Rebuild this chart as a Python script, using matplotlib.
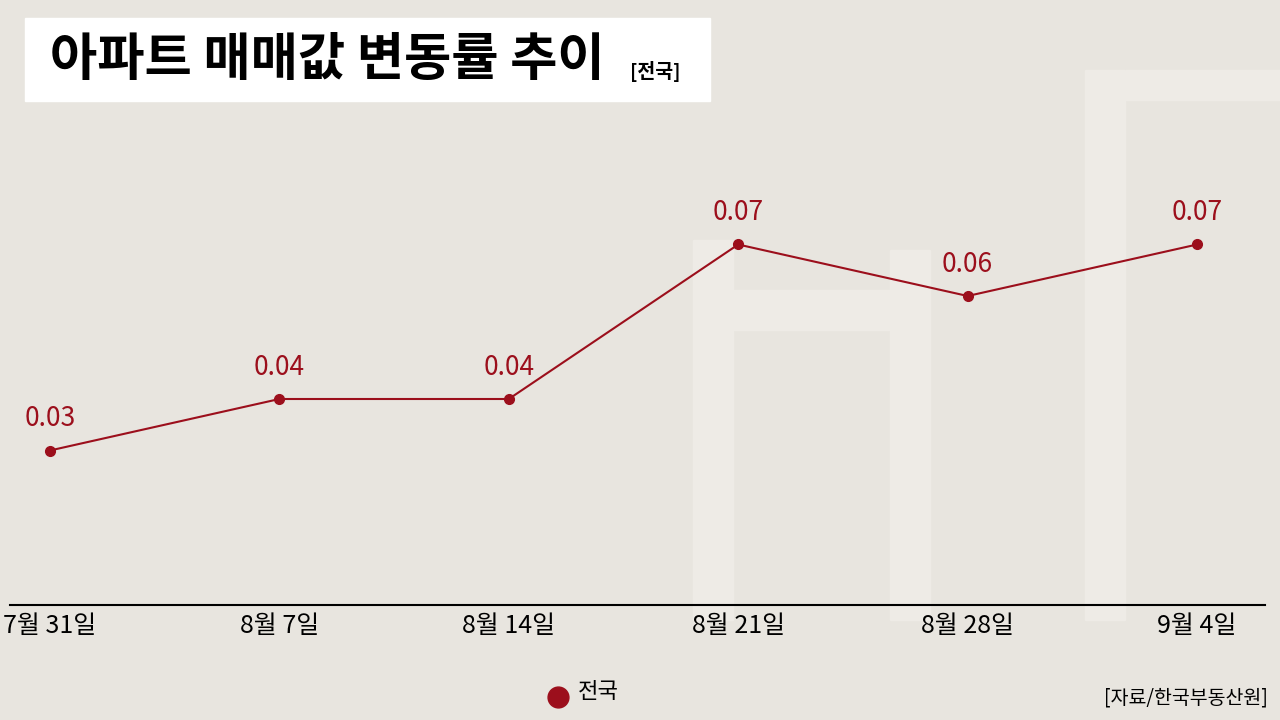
import matplotlib
matplotlib.use("Agg")
import matplotlib.pyplot as plt
from matplotlib.patches import Rectangle

plt.rcParams['font.family'] = ['Noto Sans CJK KR', 'DejaVu Sans']

dates = ["7월 31일", "8월 7일", "8월 14일", "8월 21일", "8월 28일", "9월 4일"]
values = [0.03, 0.04, 0.04, 0.07, 0.06, 0.07]
labels = ["0.03", "0.04", "0.04", "0.07", "0.06", "0.07"]
red = "#9c0f1c"

fig = plt.figure(figsize=(12.8, 7.2), dpi=100)
fig.patch.set_facecolor("#e8e5df")

# faint background decoration
for (x, y, w, h) in [(693, 240, 40, 380), (733, 290, 160, 40), (890, 250, 40, 370),
                     (1085, 70, 40, 550), (1125, 70, 155, 30)]:
    fig.patches.append(Rectangle((x / 1280, 1 - (y + h) / 720), w / 1280, h / 720,
                                 transform=fig.transFigure, color="#eeebe6", zorder=0))

# title box
fig.patches.append(Rectangle((25 / 1280, 1 - 101 / 720), 685 / 1280, 83 / 720,
                             transform=fig.transFigure, color="white", zorder=1))
fig.text(50 / 1280, 1 - 60 / 720, "아파트 매매값 변동률 추이", fontsize=37, fontweight="bold",
         va="center", ha="left", zorder=2)
fig.text(630 / 1280, 1 - 72 / 720, "[전국]", fontsize=14, fontweight="bold",
         va="center", ha="left", zorder=2)

ax = fig.add_axes([10 / 1280, 115 / 720, 1255 / 1280, 515 / 720])
ax.set_zorder(3)
ax.set_facecolor("none")
x = list(range(len(dates)))
ax.plot(x, values, color=red, lw=1.5, marker="o", ms=7, zorder=3)
for xi, v, t in zip(x, values, labels):
    ax.annotate(t, (xi, v), xytext=(0, 13), textcoords="offset points",
                ha="center", va="bottom", fontsize=19, color=red)
ax.set_xlim(-0.174, 5.296)
ax.set_ylim(0, 0.1)
ax.set_xticks(x)
ax.set_xticklabels(dates, fontsize=18)
ax.tick_params(length=0, pad=6)
ax.set_yticks([])
for s in ["top", "right", "left"]:
    ax.spines[s].set_visible(False)
ax.spines["bottom"].set_linewidth(1.5)

fig.lines.append(plt.Line2D([558 / 1280], [1 - 697 / 720], marker="o", ms=15, color=red,
                            transform=fig.transFigure))
fig.text(578 / 1280, 1 - 692 / 720, "전국", fontsize=16, va="center", ha="left")
fig.text(1268 / 1280, 1 - 698 / 720, "[자료/한국부동산원]", fontsize=14, va="center", ha="right")

fig.savefig("out.png", dpi=100, facecolor=fig.get_facecolor())
